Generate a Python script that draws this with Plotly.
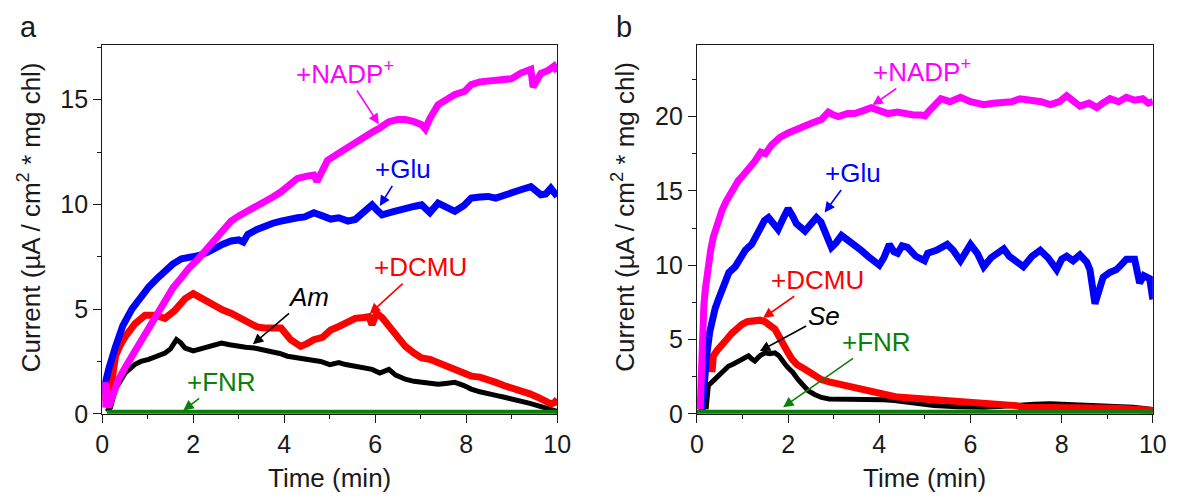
import plotly.graph_objects as go
from plotly.subplots import make_subplots

FONT = "Liberation Sans, Arial, sans-serif"

# ---------------- Panel a data (Time in min, Current) ----------------
nadp_a_t = [0.03, 0.06, 0.1, 0.14, 0.2, 0.36, 0.5, 0.65, 0.85, 1.02, 1.2, 1.38, 1.55, 1.74, 1.9, 2.11, 2.3, 2.47,
            2.65, 2.83, 3.0, 3.2, 3.4, 3.56, 3.75, 3.93, 4.1, 4.29, 4.5, 4.65, 4.72, 4.8, 4.95, 5.13, 5.3, 5.56,
            5.75, 5.93, 6.1, 6.3, 6.5, 6.66, 6.85, 7.02, 7.1, 7.2, 7.38, 7.55, 7.75, 7.97, 8.11, 8.3, 8.48, 8.65,
            8.84, 9.0, 9.2, 9.42, 9.47, 9.52, 9.64, 9.8, 9.93, 10.0]
nadp_a_v = [0.3, 1.5, 1.1, 0.3, 0.7, 1.65, 2.2, 2.75, 3.4, 4.0, 4.7, 5.42, 6.0, 6.5, 6.95, 7.4, 7.85, 8.25,
            8.7, 9.2, 9.45, 9.67, 9.95, 10.14, 10.35, 10.6, 10.95, 11.24, 11.35, 11.4, 11.1, 11.5, 12.1, 12.35, 12.6, 12.95,
            13.2, 13.44, 13.65, 13.95, 14.05, 14.05, 13.95, 13.8, 13.6, 14.1, 14.75, 15.0, 15.25, 15.4, 15.72, 15.85, 15.88, 15.9,
            15.96, 16.0, 16.27, 16.45, 15.6, 15.8, 16.25, 16.4, 16.6, 16.35]

glu_a_t = [0.0, 0.05, 0.15, 0.29, 0.45, 0.65, 0.85, 1.02, 1.2, 1.38, 1.55, 1.74, 1.9, 2.11, 2.3, 2.47, 2.65, 2.83,
           3.0, 3.1, 3.2, 3.4, 3.56, 3.75, 3.93, 4.1, 4.29, 4.45, 4.65, 4.84, 5.02, 5.2, 5.4, 5.56, 5.75, 5.93,
           6.05, 6.15, 6.4, 6.66, 6.85, 7.02, 7.2, 7.38, 7.55, 7.75, 7.95, 8.11, 8.3, 8.48, 8.65, 8.84, 9.0, 9.2,
           9.42, 9.55, 9.64, 9.75, 9.86, 10.0]
glu_a_v = [0.9, 1.4, 2.2, 3.2, 4.2, 5.0, 5.6, 6.05, 6.45, 6.84, 7.15, 7.4, 7.45, 7.55, 7.7, 7.94, 8.1, 8.25,
           8.3, 8.2, 8.57, 8.8, 8.96, 9.1, 9.2, 9.3, 9.36, 9.4, 9.6, 9.45, 9.3, 9.36, 9.2, 9.28, 9.6, 9.98,
           9.7, 9.5, 9.65, 9.83, 9.9, 9.98, 9.6, 10.06, 9.9, 9.67, 9.95, 10.3, 10.35, 10.38, 10.3, 10.46, 10.55, 10.7,
           10.85, 10.6, 10.46, 10.5, 10.77, 10.38]

dcmu_a_t = [0.06, 0.1, 0.16, 0.29, 0.4, 0.51, 0.72, 0.94, 1.16, 1.38, 1.6, 1.82, 2.0, 2.25, 2.47, 2.65, 2.83, 3.0,
            3.2, 3.4, 3.56, 3.75, 3.93, 4.14, 4.36, 4.5, 4.65, 4.84, 5.02, 5.2, 5.4, 5.56, 5.75, 5.86, 5.93, 6.03,
            6.15, 6.3, 6.5, 6.66, 6.85, 7.02, 7.2, 7.38, 7.55, 7.75, 7.95, 8.11, 8.3, 8.48, 8.65, 8.84, 9.0, 9.2,
            9.4, 9.57, 9.75, 9.86, 9.95, 10.0]
dcmu_a_v = [0.6, 1.2, 0.8, 2.75, 3.3, 3.7, 4.3, 4.7, 4.7, 4.56, 4.95, 5.5, 5.74, 5.42, 5.1, 4.95, 4.8, 4.6,
            4.3, 4.15, 4.1, 4.1, 4.1, 3.54, 3.22, 3.35, 3.54, 3.65, 4.0, 4.17, 4.4, 4.56, 4.6, 4.64, 4.25, 4.8,
            4.6, 4.17, 3.65, 3.22, 2.9, 2.67, 2.6, 2.44, 2.35, 2.2, 1.95, 1.8, 1.75, 1.65, 1.5, 1.34, 1.25, 1.1,
            0.95, 0.79, 0.6, 0.47, 0.55, 0.7]

am_t = [0.1, 0.18, 0.29, 0.4, 0.51, 0.72, 0.85, 1.02, 1.2, 1.38, 1.5, 1.63, 1.72, 1.82, 2.0, 2.25, 2.45, 2.62,
        2.8, 2.98, 3.15, 3.34, 3.5, 3.71, 3.9, 4.07, 4.25, 4.43, 4.6, 4.8, 5.0, 5.2, 5.35, 5.56, 5.75, 5.93,
        6.1, 6.3, 6.45, 6.66, 6.85, 7.02, 7.2, 7.38, 7.55, 7.75, 7.95, 8.11, 8.3, 8.48, 8.65, 8.84, 9.0, 9.2,
        9.4, 9.57, 9.75, 9.93, 10.0]
am_v = [0.1, 0.3, 1.18, 1.6, 1.97, 2.36, 2.5, 2.6, 2.75, 2.9, 3.1, 3.54, 3.4, 3.14, 3.0, 3.14, 3.25, 3.38,
        3.3, 3.22, 3.18, 3.14, 3.08, 3.0, 2.88, 2.75, 2.68, 2.6, 2.55, 2.5, 2.35, 2.45, 2.35, 2.28, 2.2, 2.12,
        1.95, 2.12, 1.85, 1.65, 1.55, 1.5, 1.45, 1.41, 1.45, 1.5, 1.35, 1.18, 1.05, 0.94, 0.88, 0.79, 0.72, 0.63,
        0.5, 0.39, 0.27, 0.16, 0.12]

fnr_a_t = [0.1, 10.0]
fnr_a_v = [0.08, 0.08]

# ---------------- Panel b data ----------------
nadp_b_t = [0.07, 0.09, 0.11, 0.15, 0.18, 0.25, 0.3, 0.36, 0.45, 0.55, 0.64, 0.73, 0.82, 0.91, 1.0, 1.09, 1.18, 1.27,
            1.4, 1.5, 1.64, 1.82, 2.0, 2.2, 2.37, 2.55, 2.73, 2.88, 3.0, 3.1, 3.3, 3.46, 3.65, 3.82, 4.0, 4.19,
            4.4, 4.55, 4.75, 4.92, 5.0, 5.1, 5.35, 5.55, 5.78, 6.0, 6.29, 6.5, 6.66, 6.9, 7.09, 7.38, 7.55, 7.75,
            7.95, 8.11, 8.25, 8.4, 8.6, 8.77, 8.9, 9.06, 9.25, 9.42, 9.6, 9.78, 9.9, 10.0]
nadp_b_v = [0.3, 3.0, 5.2, 7.2, 8.3, 10.1, 11.0, 11.9, 12.9, 13.7, 14.3, 14.8, 15.3, 15.7, 16.0, 16.3, 16.7, 17.0,
            17.6, 17.5, 18.1, 18.6, 18.9, 19.2, 19.4, 19.6, 19.8, 20.3, 20.1, 20.0, 20.2, 20.2, 20.4, 20.6, 20.4, 20.2,
            20.3, 20.2, 20.1, 20.1, 20.05, 20.4, 21.2, 21.0, 21.3, 21.0, 20.8, 20.9, 20.9, 21.0, 21.2, 21.1, 21.0, 20.8,
            21.0, 21.4, 21.0, 20.7, 20.9, 20.6, 20.9, 21.2, 21.0, 21.3, 21.1, 21.2, 20.9, 21.0]

glu_b_t = [0.11, 0.16, 0.22, 0.28, 0.33, 0.4, 0.47, 0.55, 0.62, 0.7, 0.84, 0.95, 1.06, 1.2, 1.3, 1.38, 1.48, 1.57,
           1.68, 1.78, 1.9, 2.0, 2.1, 2.18, 2.37, 2.5, 2.62, 2.72, 2.8, 2.95, 3.05, 3.17, 3.3, 3.46, 3.6, 3.75,
           3.88, 4.0, 4.1, 4.22, 4.32, 4.4, 4.5, 4.62, 4.8, 4.99, 5.06, 5.25, 5.49, 5.62, 5.78, 5.9, 6.0, 6.15,
           6.29, 6.45, 6.6, 6.73, 6.85, 6.95, 7.16, 7.35, 7.53, 7.7, 7.89, 8.0, 8.11, 8.25, 8.4, 8.55, 8.62, 8.73,
           8.8, 8.91, 9.05, 9.2, 9.3, 9.42, 9.6, 9.67, 9.71, 9.8, 9.93, 10.0]
glu_b_v = [0.2, 2.5, 4.1, 5.5, 6.3, 7.1, 7.7, 8.3, 8.8, 9.5, 9.9, 10.5, 11.0, 11.4, 12.0, 12.6, 13.0, 13.2,
           12.8, 12.4, 13.2, 13.8, 13.3, 12.8, 12.3, 12.8, 13.2, 12.9, 12.3, 11.2, 11.5, 12.0, 11.7, 11.4, 11.0, 10.6,
           10.3, 10.0, 10.5, 11.4, 10.9, 10.8, 11.3, 11.2, 10.6, 10.3, 10.8, 11.0, 11.4, 11.0, 10.3, 10.9, 11.4, 10.8,
           9.9, 10.5, 10.8, 11.1, 10.6, 10.4, 9.9, 10.6, 11.0, 10.5, 9.7, 10.4, 10.6, 10.3, 10.7, 10.2, 9.7, 7.4,
           8.2, 9.2, 9.5, 9.7, 10.0, 10.4, 10.4, 9.6, 8.8, 9.3, 9.1, 7.7]

dcmu_b_t = [0.33, 0.36, 0.45, 0.55, 0.65, 0.76, 0.87, 0.98, 1.1, 1.27, 1.38, 1.49, 1.6, 1.71, 1.8, 1.89, 2.0, 2.08,
            2.2, 2.37, 2.55, 2.73, 2.9, 3.1, 3.3, 3.46, 3.65, 3.82, 4.0, 4.19, 4.35, 4.55, 4.8, 5.0, 5.3, 5.56,
            5.9, 6.29, 6.6, 6.87, 7.0, 7.16, 7.6, 8.11, 8.6, 9.2, 9.6, 10.0]
dcmu_b_v = [2.8, 3.9, 4.3, 4.6, 5.0, 5.4, 5.75, 6.0, 6.2, 6.3, 6.3, 6.2, 6.0, 5.7, 5.2, 4.6, 4.1, 3.7,
            3.3, 3.0, 2.6, 2.3, 2.15, 2.0, 1.9, 1.8, 1.7, 1.55, 1.35, 1.2, 1.15, 1.1, 1.05, 1.0, 0.95, 0.9,
            0.85, 0.78, 0.72, 0.67, 0.55, 0.44, 0.44, 0.44, 0.4, 0.38, 0.3, 0.22]

se_t = [0.2, 0.25, 0.35, 0.47, 0.58, 0.69, 0.8, 0.91, 1.02, 1.13, 1.2, 1.27, 1.38, 1.49, 1.6, 1.71, 1.8, 1.86,
        1.93, 2.0, 2.1, 2.22, 2.33, 2.44, 2.58, 2.73, 2.9, 3.1, 3.46, 3.9, 4.1, 4.33, 4.55, 4.77, 5.0, 5.2,
        5.7, 6.29, 6.7, 7.02, 7.4, 7.75, 8.2, 8.84, 9.2, 9.57, 10.0]
se_v = [0.3, 1.9, 2.2, 2.55, 2.9, 3.2, 3.35, 3.55, 3.7, 3.9, 3.7, 3.55, 3.9, 4.1, 4.05, 4.1, 3.9, 3.7,
        3.35, 3.1, 2.8, 2.3, 1.9, 1.55, 1.3, 1.1, 1.0, 1.0, 1.0, 1.0, 0.95, 0.9, 0.8, 0.67, 0.6, 0.55,
        0.48, 0.44, 0.5, 0.6, 0.65, 0.67, 0.62, 0.6, 0.52, 0.44, 0.29]

fnr_b_t = [0.0, 10.0]
fnr_b_v = [0.12, 0.12]

# labels: (text, colour, text centre t, v ; arrow tip t, v)
labels_a = [
    ("+NADP<sup>+</sup>", "#FF00FF", 5.34, 16.3, 6.08, 13.83),
    ("+Glu", "#0000FF", 6.6, 11.67, 6.10, 9.92),
    ("+DCMU", "#FF0000", 7.0, 7.0, 5.88, 4.78),
    ("<i>Am</i>", "#000000", 4.53, 5.58, 3.31, 3.32),
    ("+FNR", "#0A800A", 2.61, 1.52, 1.78, 0.16),
]
labels_b = [
    ("+NADP<sup>+</sup>", "#FF00FF", 4.94, 23.1, 3.85, 20.77),
    ("+Glu", "#0000FF", 3.43, 16.17, 2.8, 13.55),
    ("+DCMU", "#FF0000", 2.65, 9.02, 1.45, 6.44),
    ("<i>Se</i>", "#000000", 2.78, 6.55, 1.38, 4.22),
    ("+FNR", "#0A800A", 3.94, 4.84, 1.89, 0.44),
]

W, H = 1179, 498
# The page keeps its 8 px body margin and the photo is slightly rescaled;
# convert target picture positions (pixels) into paper fractions.
SX, OX, SY, OFF = 0.991, 2.5, 0.983, 8

def px(x):
    return ((x - OX) / SX - OFF) / W

def py(y):
    return 1 - (y / SY - OFF) / H

fig = make_subplots(rows=1, cols=2)

def add_panel(col, series):
    for t, v, color, width in series:
        fig.add_trace(go.Scatter(x=t, y=v, mode="lines", line=dict(color=color, width=width),
                                 showlegend=False, hoverinfo="skip"), row=1, col=col)

add_panel(1, [(am_t, am_v, "#000000", 5),
              (dcmu_a_t, dcmu_a_v, "#FF0000", 7),
              (glu_a_t, glu_a_v, "#0000FF", 7),
              (nadp_a_t, nadp_a_v, "#FF00FF", 7),
              (fnr_a_t, fnr_a_v, "#0A800A", 4.5)])
add_panel(2, [(se_t, se_v, "#000000", 5),
              (dcmu_b_t, dcmu_b_v, "#FF0000", 7),
              (glu_b_t, glu_b_v, "#0000FF", 7),
              (nadp_b_t, nadp_b_v, "#FF00FF", 7),
              (fnr_b_t, fnr_b_v, "#0A800A", 4.5)])

axis_common = dict(showline=True, linecolor="#1a1a1a", linewidth=1.3, mirror=True, ticks="outside",
                   ticklen=8, tickwidth=1.3, tickcolor="#1a1a1a", showgrid=False, zeroline=False,
                   tickfont=dict(family=FONT, size=25, color="#1a1a1a"))
minor = dict(ticks="outside", ticklen=4, tickwidth=1.3, tickcolor="#1a1a1a", showgrid=False)

fig.update_xaxes(range=[0, 10], dtick=2, tick0=0, minor=dict(dtick=1, **minor), **axis_common)
fig.update_xaxes(domain=[px(98.5), px(557.5)], row=1, col=1)
fig.update_xaxes(domain=[px(698.5), px(1158.5)], row=1, col=2)
fig.update_yaxes(domain=[py(418.3), py(45.5)], **axis_common)
fig.update_yaxes(range=[0, 17.6], dtick=5, tick0=0, minor=dict(dtick=2.5, **minor), row=1, col=1)
fig.update_yaxes(range=[0, 24.8], dtick=5, tick0=0, minor=dict(dtick=2.5, **minor), row=1, col=2)

ann = []
for labels, xr, yr in [(labels_a, "x", "y"), (labels_b, "x2", "y2")]:
    for text, color, tx, ty, ptx, pty in labels:
        ann.append(dict(x=ptx, y=pty, xref=xr, yref=yr, ax=tx, ay=ty, axref=xr, ayref=yr,
                        text=text, showarrow=True, arrowhead=2, arrowsize=1.3, arrowwidth=1.6,
                        arrowcolor=color, standoff=0, startstandoff=0,
                        font=dict(family=FONT, size=26, color=color)))

# axis titles and panel letters
title_font = dict(family=FONT, size=26, color="#1a1a1a")
for xc, ax_left in [((98.5 + 557.5) / 2, 98.5), ((698.5 + 1158.5) / 2, 698.5)]:
    ann.append(dict(x=px(xc), y=py(483), xref="paper", yref="paper", text="Time (min)", showarrow=False,
                    font=title_font, xanchor="center", yanchor="middle"))
    ann.append(dict(x=px(ax_left - 73.5), y=py(219), xref="paper", yref="paper",
                    text="Current (µA / cm<sup>2</sup> * mg chl)", textangle=-90, showarrow=False,
                    font=title_font, xanchor="center", yanchor="middle"))
for letter, lx in [("a", 24), ("b", 625)]:
    ann.append(dict(x=px(lx), y=py(27), xref="paper", yref="paper", text=letter, showarrow=False,
                    font=dict(family=FONT, size=29, color="#1a1a1a"), xanchor="center", yanchor="middle"))

fig.update_layout(width=W, height=H, margin=dict(l=0, r=0, t=0, b=0), paper_bgcolor="white",
                  plot_bgcolor="white", annotations=ann, showlegend=False,
                  font=dict(family=FONT, color="#1a1a1a"))

fig.write_html("out.html", config={"displayModeBar": False})
